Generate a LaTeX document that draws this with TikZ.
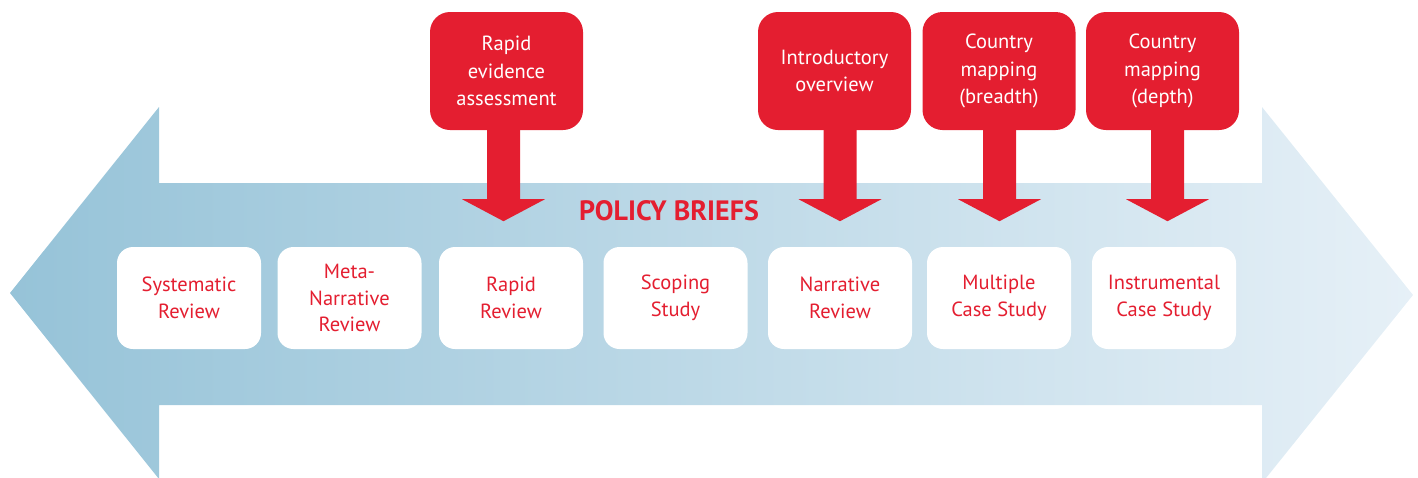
\documentclass[tikz,border=0pt]{standalone}
\usepackage{fontspec}
\setmainfont{PT Sans}
\usetikzlibrary{calc}
\definecolor{pbred}{RGB}{228,30,48}
\definecolor{bluedark}{RGB}{150,195,216}
\definecolor{bluelight}{RGB}{230,240,247}
\tikzset{
  wbox/.style={fill=white, rounded corners=16pt, minimum width=144pt, minimum height=102pt,
    inner sep=0pt, align=center, text=pbred, font=\fontsize{20.5}{26.5}\selectfont},
  rbox/.style={fill=pbred, rounded corners=20pt, minimum width=153pt, minimum height=118pt,
    inner sep=0pt, align=center, text=white, font=\fontsize{20.5}{27.5}\selectfont},
  blockarrow/.style={fill=pbred}
}
\newcommand{\downarrowfrom}[2]{%
  \fill[blockarrow] ($(#1.south)+(#2,0)$) ++(-16.5,-1) -- ++(0,70) -- ++(-25,0) -- ++(41.5,22) -- ++(41.5,-22) -- ++(-25,0) -- ++(0,-70) -- cycle;}
\begin{document}
\begin{tikzpicture}[x=1pt,y=-1pt]
\useasboundingbox (0,0) rectangle (1418,477);
\begin{scope}
\clip (0,0) rectangle (1418,477);
\shade[left color=bluedark, right color=bluelight]
  (10,293) -- (159,107) -- (159,183) -- (1262,183) -- (1262,107) -- (1413,295)
  -- (1262,483) -- (1262,405) -- (159,405) -- (159,479) -- cycle;
\end{scope}
% white boxes
\node[wbox] (sr) at (189,298) {Systematic\\Review};
\node[wbox] (mn) at (349.5,298) {Meta-\\Narrative\\Review};
\node[wbox] (rr) at (511,298) {Rapid\\Review};
\node[wbox] (ss) at (675.5,298) {Scoping\\Study};
\node[wbox] (nr) at (840,298) {Narrative\\Review};
\node[wbox] (mc) at (999,298) {Multiple\\Case Study};
\node[wbox] (ic) at (1164,298) {Instrumental\\Case Study};
% title
\node[text=pbred, font=\fontsize{28}{30}\selectfont\bfseries, inner sep=0pt] (pb) at (669,211) {POLICY BRIEFS};
% red boxes
\node[rbox] (rea) at (506.5,71) {Rapid\\evidence\\assessment};
\node[rbox] (io) at (834.5,71) {Introductory\\overview};
\node[rbox] (cmb) at (999,71) {Country\\mapping\\(breadth)};
\node[rbox] (cmd) at (1162.5,71) {Country\\mapping\\(depth)};
\downarrowfrom{rea}{-3}
\downarrowfrom{io}{5.5}
\downarrowfrom{cmb}{0.5}
\downarrowfrom{cmd}{5}
\end{tikzpicture}
\end{document}
